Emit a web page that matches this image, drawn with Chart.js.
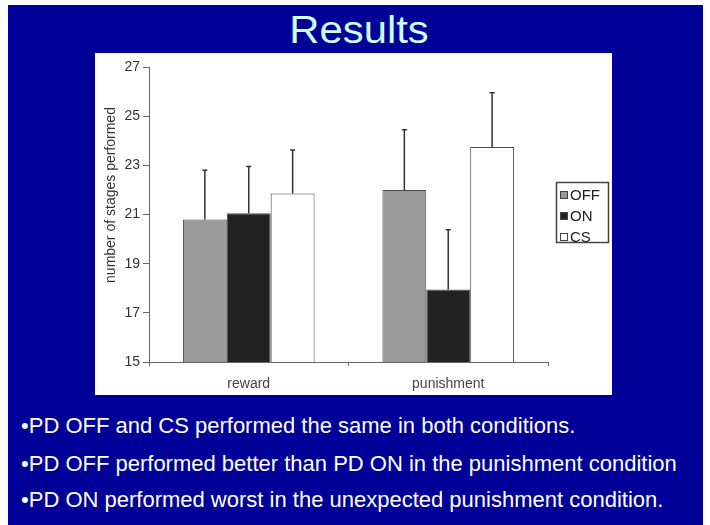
<!DOCTYPE html>
<html>
<head>
<meta charset="utf-8">
<script src="https://cdn.jsdelivr.net/npm/chart.js@4.4.1/dist/chart.umd.min.js"></script>
<style>
  body { margin: 0; width: 710px; height: 525px; background: #fff; overflow: hidden; font-family: "Liberation Sans", Arial, sans-serif; }
  #slide { position: absolute; left: 8px; top: 5px; width: 695px; height: 520px; background: #000099; }
  #title { position: absolute; left: 4px; top: 11px; width: 710px; text-align: center; font-size: 38px; line-height: 1; color: #ccffff; transform: scaleX(1.1); }
  #panel { position: absolute; left: 95px; top: 53px; width: 517px; height: 342px; background: #fff; }
  .bullet { position: absolute; left: 21px; font-size: 22px; line-height: 1; color: #fff; white-space: nowrap; }
</style>
</head>
<body>
<div id="slide"></div>
<div id="title">Results</div>
<div id="panel"><canvas id="resultsChart" width="517" height="342"></canvas></div>
<div class="bullet" style="top:415px">•PD OFF and CS performed the same in both conditions.</div>
<div class="bullet" style="top:453px">•PD OFF performed better than PD ON in the punishment condition</div>
<div class="bullet" style="top:489px">•PD ON performed worst in the unexpected punishment condition.</div>

<script>
// values
const conditions = ['reward', 'punishment']
const groupNames = ['OFF', 'ON', 'CS']
const offMeans = [20.8, 22.0]
const onMeans = [21.05, 17.95]
const csMeans = [21.85, 23.75]
const offErr = [2.0, 2.45]
const onErr = [1.9, 2.43]
const csErr = [1.77, 2.2]
const yTicks = [15, 17, 19, 21, 23, 25, 27]
const yTitle = 'number of stages performed'

const fills = ['#9a9a9a', '#222222', '#ffffff']

// upper-only error bars with a small cap
const errorBars = {
    id: 'errorBars',
    afterDatasetsDraw(chart) {
        const ctx = chart.ctx
        const yScale = chart.scales.y
        ctx.save()
        ctx.strokeStyle = '#333'
        ctx.lineWidth = 1.5
        chart.data.datasets.forEach((ds, i) => {
            const meta = chart.getDatasetMeta(i)
            meta.data.forEach((bar, j) => {
                const top = yScale.getPixelForValue(ds.data[j] + ds.errors[j])
                ctx.beginPath()
                ctx.moveTo(bar.x, bar.y)
                ctx.lineTo(bar.x, top)
                ctx.moveTo(bar.x - 2.5, top)
                ctx.lineTo(bar.x + 2.5, top)
                ctx.stroke()
            })
        })
        ctx.restore()
    }
}

// boxed legend + y axis title, placed like the original figure
const figureExtras = {
    id: 'figureExtras',
    afterDraw(chart) {
        const ctx = chart.ctx
        ctx.save()
        // y title
        ctx.translate(16, 142)
        ctx.rotate(-Math.PI / 2)
        ctx.font = '14px "Liberation Sans", Arial, sans-serif'
        ctx.fillStyle = '#333'
        ctx.textAlign = 'center'
        ctx.textBaseline = 'middle'
        ctx.fillText(yTitle, 0, 0)
        ctx.restore()

        ctx.save()
        ctx.strokeStyle = '#444'
        ctx.lineWidth = 1.5
        ctx.strokeRect(461.5, 129.5, 52, 60)
        ctx.font = '15px "Liberation Sans", Arial, sans-serif'
        ctx.textBaseline = 'middle'
        chart.data.datasets.forEach((ds, i) => {
            let cy = 142 + i * 21
            ctx.fillStyle = ds.backgroundColor
            ctx.fillRect(465, cy - 4, 8, 8)
            ctx.lineWidth = 1
            ctx.strokeStyle = '#444'
            ctx.strokeRect(465.5, cy - 3.5, 7, 7)
            ctx.fillStyle = '#222'
            ctx.fillText(ds.label, 475, cy + 1)
        })
        ctx.restore()
    }
}

const datasets = [offMeans, onMeans, csMeans].map((vals, i) => ({
    label: groupNames[i],
    data: vals,
    errors: [offErr, onErr, csErr][i],
    backgroundColor: fills[i],
    borderColor: '#4a4a4a',
    borderWidth: 1,
    borderSkipped: 'bottom',
    categoryPercentage: 0.66,
    barPercentage: 1.0
}))

new Chart(document.getElementById('resultsChart'), {
    type: 'bar',
    data: { labels: conditions, datasets: datasets },
    plugins: [errorBars, figureExtras],
    options: {
        responsive: false,
        animation: false,
        layout: { padding: { top: 14, right: 64, left: 0, bottom: 0 } },
        plugins: { legend: { display: false }, tooltip: { enabled: false } },
        scales: {
            x: {
                grid: { drawOnChartArea: false, tickLength: 4, color: '#666', offset: true },
                border: { color: '#666', width: 1 },
                ticks: { color: '#444', font: { size: 14, family: '"Liberation Sans", Arial' }, padding: 10 },
                afterFit: (s) => { s.height = 33 }
            },
            y: {
                min: 15,
                max: 27,
                afterBuildTicks: (s) => { s.ticks = yTicks.map(v => ({ value: v })) },
                grid: { drawOnChartArea: false, tickLength: 6, color: '#666' },
                border: { color: '#666', width: 1 },
                ticks: { color: '#333', font: { size: 14, family: '"Liberation Sans", Arial' }, padding: 3 },
                afterFit: (s) => { s.width = 54 }
            }
        }
    }
})
</script>
</body>
</html>
